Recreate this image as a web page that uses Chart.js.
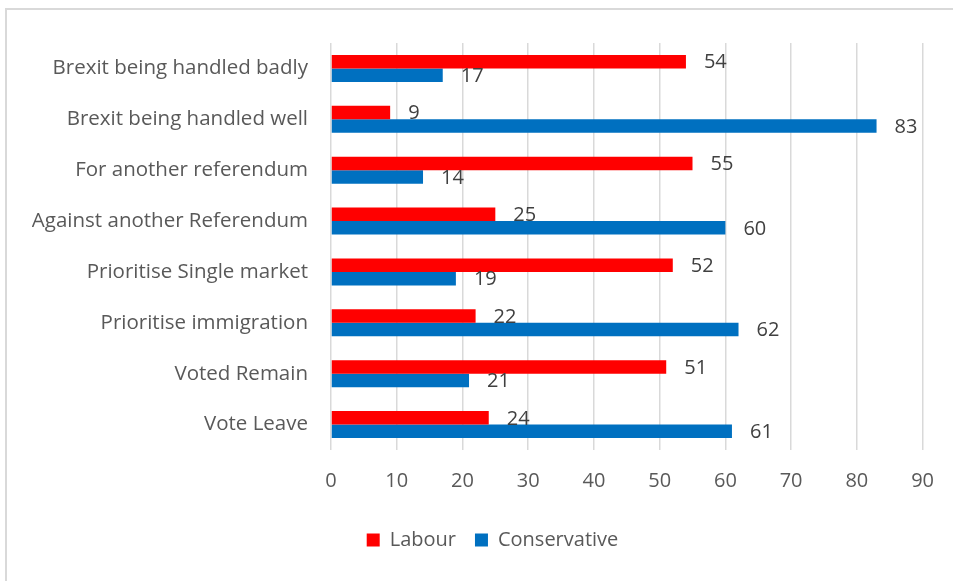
<!DOCTYPE html>
<html>
<head>
<meta charset="utf-8">
<script src="https://cdn.jsdelivr.net/npm/chart.js@4/dist/chart.umd.min.js"></script>
<style>
  html, body { margin: 0; padding: 0; background: #fff; overflow: hidden; }
  #frame { position: absolute; left: 5px; top: 8px; width: 1000px; height: 1000px; border: 2px solid #d9d9d9; box-sizing: border-box; }
  #wrap { position: absolute; left: 0; top: 0; width: 953px; height: 581px; }
</style>
</head>
<body>
<div id="frame"></div>
<div id="wrap"><canvas id="c" width="953" height="581"></canvas></div>
<script>
const categories = [
  "Brexit being handled badly",
  "Brexit being handled well",
  "For another referendum",
  "Against another Referendum",
  "Prioritise Single market",
  "Prioritise immigration",
  "Voted Remain",
  "Vote Leave"
];
const labourValues = [54, 9, 55, 25, 52, 22, 51, 24];
const conservativeValues = [17, 83, 14, 60, 19, 62, 21, 61];
const seriesNames = ["Labour", "Conservative"];
const xTicks = [0, 10, 20, 30, 40, 50, 60, 70, 80, 90];

const FONT = "'Open Sans', Lato, sans-serif";

const valueLabels = {
  id: 'valueLabels',
  afterDatasetsDraw(chart) {
    const ctx = chart.ctx;
    ctx.save();
    ctx.font = "20px " + FONT;
    ctx.fillStyle = "#404040";
    ctx.textAlign = "left";
    ctx.textBaseline = "middle";
    chart.data.datasets.forEach((ds, di) => {
      const meta = chart.getDatasetMeta(di);
      meta.data.forEach((bar, i) => {
        ctx.fillText(String(ds.data[i]), bar.x + 18, bar.y + 1);
      });
    });
    ctx.restore();
  }
};

new Chart(document.getElementById('c'), {
  type: 'bar',
  data: {
    labels: categories,
    datasets: [
      { label: seriesNames[0], data: labourValues, backgroundColor: '#FF0000', borderWidth: 0 },
      { label: seriesNames[1], data: conservativeValues, backgroundColor: '#0070C0', borderWidth: 0 }
    ]
  },
  options: {
    indexAxis: 'y',
    responsive: false,
    animation: false,
    devicePixelRatio: 1,
    layout: { padding: { left: 32, right: 0, top: 43, bottom: 21 } },
    datasets: { bar: { categoryPercentage: 0.53, barPercentage: 1.0 } },
    scales: {
      x: {
        min: 0, max: 90,
        afterBuildTicks(scale) { scale.ticks = xTicks.map(v => ({ value: v })); },
        afterFit(scale) { scale.height = 61; },
        grid: { color: '#d9d9d9', lineWidth: 1.5, drawTicks: false },
        border: { display: false },
        ticks: { color: '#595959', font: { family: FONT, size: 20 }, padding: 19, maxRotation: 0 }
      },
      y: {
        afterFit(scale) { scale.width = 331 - 32; },
        grid: { display: false, drawTicks: false },
        border: { display: false },
        ticks: { color: '#595959', font: { family: FONT, size: 20.5 }, padding: 23 }
      }
    },
    plugins: {
      legend: {
        position: 'bottom',
        labels: {
          color: '#595959',
          font: { family: FONT, size: 20 },
          boxWidth: 13, boxHeight: 13,
          padding: 19
        }
      },
      tooltip: { enabled: false }
    }
  },
  plugins: [valueLabels]
});
</script>
</body>
</html>
